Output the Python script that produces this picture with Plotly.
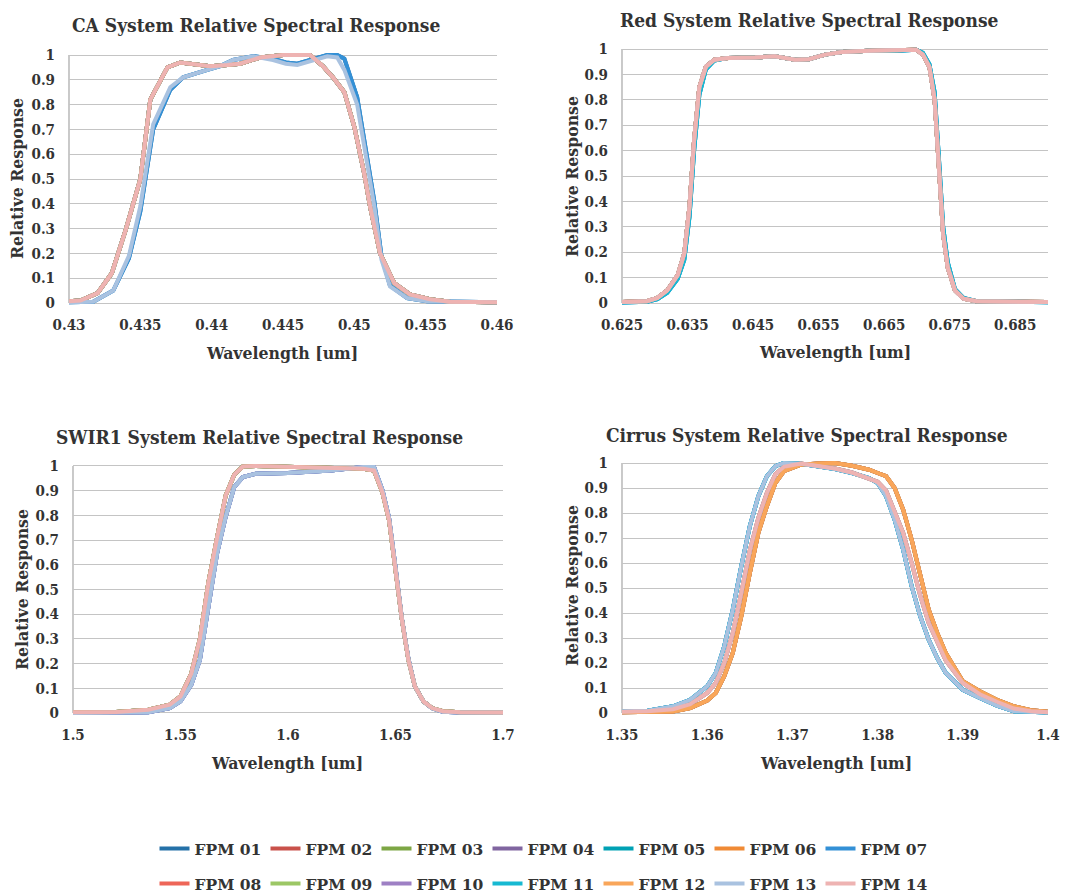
import plotly.graph_objects as go

W, H = 1086, 894

fpm_names = ["FPM 01", "FPM 02", "FPM 03", "FPM 04", "FPM 05", "FPM 06", "FPM 07",
             "FPM 08", "FPM 09", "FPM 10", "FPM 11", "FPM 12", "FPM 13", "FPM 14"]
fpm_colors = ["#2471A8", "#C9514A", "#7DA644", "#8065A0", "#00A1B4", "#F08A35", "#3390D6",
              "#EE6658", "#9CC765", "#9E80C4", "#17B9D2", "#F9A65A", "#A9C2E0", "#EEB3B2"]

panel_titles = ["CA System Relative Spectral Response", "Red System Relative Spectral Response",
                "SWIR1 System Relative Spectral Response", "Cirrus System Relative Spectral Response"]

# ---------------- CA band ----------------
ca_wl_a = [0.430, 0.4308, 0.432, 0.433, 0.434, 0.435, 0.4357, 0.4369, 0.4378, 0.4387, 0.4399, 0.4411,
           0.442, 0.4434, 0.445, 0.4469, 0.4478, 0.4485, 0.4493, 0.450, 0.4507, 0.4511, 0.4518, 0.4528,
           0.4539, 0.4553, 0.4567, 0.460]
ca_rsr_a = [0.007, 0.01, 0.04, 0.12, 0.30, 0.50, 0.82, 0.95, 0.97, 0.965, 0.955, 0.96,
            0.965, 0.99, 1.0, 1.0, 0.955, 0.91, 0.85, 0.71, 0.52, 0.39, 0.20, 0.08,
            0.035, 0.015, 0.005, 0.003]
ca_wl_b = [0.430, 0.4309, 0.4317, 0.4331, 0.4342, 0.435, 0.4359, 0.4371, 0.438, 0.4397, 0.4406, 0.4415,
           0.4429, 0.4443, 0.4452, 0.446, 0.4471, 0.4481, 0.4488, 0.4493, 0.4502, 0.4509, 0.4514, 0.4519,
           0.4525, 0.4537, 0.4551, 0.460]
ca_rsr_b = [0.003, 0.002, 0.005, 0.05, 0.19, 0.39, 0.72, 0.87, 0.91, 0.94, 0.955, 0.98,
            0.995, 0.98, 0.965, 0.96, 0.98, 0.995, 0.99, 0.94, 0.80, 0.55, 0.39, 0.175,
            0.067, 0.02, 0.007, 0.003]
ca_rsr_c = [0.003, 0.002, 0.005, 0.05, 0.18, 0.37, 0.70, 0.86, 0.91, 0.94, 0.955, 0.98,
            0.995, 0.985, 0.97, 0.965, 0.985, 1.0, 1.0, 0.985, 0.83, 0.58, 0.41, 0.19,
            0.07, 0.02, 0.007, 0.003]
ca_group = {"FPM 01": "c", "FPM 07": "c", "FPM 13": "b"}

# ---------------- Red band ----------------
red_wl = [0.625, 0.6288, 0.6304, 0.6319, 0.6335, 0.6345, 0.6353, 0.636, 0.6368, 0.6378, 0.6391, 0.6412,
          0.6453, 0.6483, 0.6514, 0.6535, 0.656, 0.6586, 0.6627, 0.6663, 0.6699, 0.6709, 0.6719, 0.6727,
          0.6735, 0.674, 0.6747, 0.6758, 0.6771, 0.6791, 0.690]
red_rsr_a = [0.004, 0.007, 0.02, 0.05, 0.11, 0.195, 0.38, 0.64, 0.85, 0.93, 0.958, 0.965,
             0.967, 0.971, 0.958, 0.96, 0.978, 0.988, 0.993, 0.995, 0.997, 0.978, 0.93, 0.80,
             0.47, 0.27, 0.14, 0.05, 0.017, 0.007, 0.004]
red_rsr_b = [0.002, 0.005, 0.015, 0.04, 0.095, 0.17, 0.34, 0.60, 0.82, 0.92, 0.955, 0.965,
             0.967, 0.971, 0.958, 0.96, 0.978, 0.988, 0.993, 0.992, 0.997, 0.985, 0.94, 0.83,
             0.51, 0.30, 0.16, 0.055, 0.02, 0.007, 0.003]
red_group = {"FPM 05": "b", "FPM 11": "b", "FPM 07": "b"}

# ---------------- SWIR1 band ----------------
swir_wl = [1.500, 1.520, 1.535, 1.545, 1.550, 1.555, 1.559, 1.563, 1.567, 1.571, 1.575, 1.579,
           1.585, 1.600, 1.620, 1.635, 1.640, 1.644, 1.647, 1.650, 1.653, 1.656, 1.659, 1.663,
           1.667, 1.672, 1.680, 1.700]
swir_rsr_a = [0.003, 0.004, 0.013, 0.034, 0.067, 0.16, 0.30, 0.53, 0.71, 0.88, 0.965, 0.998,
              1.0, 0.996, 0.989, 0.989, 0.982, 0.89, 0.78, 0.58, 0.377, 0.215, 0.108, 0.047,
              0.02, 0.007, 0.003, 0.002]
swir_rsr_b = [0.0, 0.0, 0.003, 0.02, 0.047, 0.114, 0.215, 0.43, 0.646, 0.794, 0.915, 0.955,
              0.969, 0.972, 0.982, 0.996, 0.996, 0.90, 0.79, 0.59, 0.38, 0.22, 0.108, 0.047,
              0.019, 0.005, 0.002, 0.002]
swir_group = {"FPM 01": "b", "FPM 04": "b", "FPM 07": "b", "FPM 10": "b", "FPM 13": "b"}

# ---------------- Cirrus band ----------------
cir_wl = [1.350, 1.353, 1.356, 1.358, 1.360, 1.361, 1.362, 1.363, 1.364, 1.365, 1.366, 1.367,
          1.368, 1.369, 1.371, 1.373, 1.375, 1.377, 1.379, 1.380, 1.381, 1.382, 1.383, 1.384,
          1.385, 1.386, 1.387, 1.388, 1.390, 1.392, 1.394, 1.396, 1.398, 1.400]
cir_rsr_early = [0.007, 0.009, 0.027, 0.053, 0.107, 0.16, 0.267, 0.413, 0.587, 0.747, 0.867, 0.947,
                 0.987, 1.0, 0.997, 0.987, 0.976, 0.96, 0.94, 0.92, 0.867, 0.773, 0.653, 0.507,
                 0.387, 0.293, 0.22, 0.16, 0.093, 0.06, 0.029, 0.007, 0.003, 0.002]
cir_rsr_mid = [0.005, 0.007, 0.015, 0.035, 0.08, 0.12, 0.20, 0.32, 0.48, 0.65, 0.78, 0.88,
               0.955, 0.985, 0.998, 0.99, 0.978, 0.962, 0.94, 0.925, 0.89, 0.81, 0.72, 0.60,
               0.47, 0.36, 0.28, 0.21, 0.12, 0.075, 0.045, 0.018, 0.007, 0.003]
cir_rsr_late = [0.003, 0.004, 0.006, 0.02, 0.05, 0.08, 0.147, 0.24, 0.387, 0.56, 0.72, 0.827,
                0.92, 0.967, 0.993, 0.998, 1.0, 0.989, 0.973, 0.96, 0.947, 0.90, 0.813, 0.693,
                0.547, 0.413, 0.32, 0.24, 0.127, 0.087, 0.053, 0.027, 0.011, 0.005]
cir_group = {"FPM 01": "early", "FPM 05": "early", "FPM 07": "early", "FPM 11": "early", "FPM 13": "early",
             "FPM 08": "mid", "FPM 09": "mid", "FPM 10": "mid", "FPM 14": "mid"}

# tick labels
ca_ticks = ["0.43", "0.435", "0.44", "0.445", "0.45", "0.455", "0.46"]
red_ticks = ["0.625", "0.635", "0.645", "0.655", "0.665", "0.675", "0.685"]
swir_ticks = ["1.5", "1.55", "1.6", "1.65", "1.7"]
cir_ticks = ["1.35", "1.36", "1.37", "1.38", "1.39", "1.4"]
y_ticks = ["0", "0.1", "0.2", "0.3", "0.4", "0.5", "0.6", "0.7", "0.8", "0.9", "1"]


def pick_ca(name):
    g = ca_group.get(name, "a")
    if g == "a":
        return ca_wl_a, ca_rsr_a
    if g == "b":
        return ca_wl_b, ca_rsr_b
    return ca_wl_b, ca_rsr_c


def pick_red(name):
    return red_wl, (red_rsr_b if red_group.get(name) == "b" else red_rsr_a)


def pick_swir(name):
    return swir_wl, (swir_rsr_b if swir_group.get(name) == "b" else swir_rsr_a)


def pick_cir(name):
    g = cir_group.get(name, "late")
    return cir_wl, {"early": cir_rsr_early, "mid": cir_rsr_mid, "late": cir_rsr_late}[g]


pickers = [pick_ca, pick_red, pick_swir, pick_cir]

# pixel layout of plot areas: (left, right, y_of_1, y_of_0)
areas = [(69, 497, 55, 303), (622, 1048, 49, 303), (73, 503, 466, 713), (622, 1048, 463, 713)]
xranges = [[0.43, 0.46], [0.625, 0.69], [1.5, 1.7], [1.35, 1.4]]
tickvals_x = [[0.43, 0.435, 0.44, 0.445, 0.45, 0.455, 0.46],
              [0.625, 0.635, 0.645, 0.655, 0.665, 0.675, 0.685],
              [1.5, 1.55, 1.6, 1.65, 1.7],
              [1.35, 1.36, 1.37, 1.38, 1.39, 1.4]]
ticktext_x = [ca_ticks, red_ticks, swir_ticks, cir_ticks]
title_pos = [(256, 25), (809, 20), (259, 437), (807, 435)]
xtitle_pos = [(282, 353), (835, 352), (287, 763), (836, 763)]
ytitle_pos = [(17, 179), (572, 177), (22, 590), (572, 586)]

FONT = "DejaVu Serif Condensed, DejaVu Serif, serif"
TXT = "#333333"
GRID = "#C4C4C4"
PAD = 0.012

fig = go.Figure()
layout = dict(width=W, height=H, margin=dict(l=0, r=0, t=0, b=0, autoexpand=False),
              paper_bgcolor="white", plot_bgcolor="white", annotations=[])

for p in range(4):
    ax = "" if p == 0 else str(p + 1)
    for i, name in enumerate(fpm_names):
        xs, ys = pickers[p](name)
        fig.add_trace(go.Scatter(
            x=xs, y=ys, mode="lines", name=name, legendgroup=name,
            showlegend=(p == 0), legend=("legend" if i < 7 else "legend2"),
            line=dict(color=fpm_colors[i], width=4),
            xaxis="x" + ax, yaxis="y" + ax, hoverinfo="skip"))
    l, r, y1, y0 = areas[p]
    span = y0 - y1
    top_px = y1 - PAD * span
    bot_px = y0 + PAD * span
    layout["xaxis" + ax] = dict(
        domain=[l / W, r / W], range=xranges[p], anchor="y" + ax, automargin=False,
        tickmode="array", tickvals=tickvals_x[p], ticktext=ticktext_x[p],
        showgrid=False, zeroline=False, showline=False, ticks="",
        ticklabelstandoff=8,
        tickfont=dict(family=FONT, size=15, color=TXT, weight="bold"))
    layout["yaxis" + ax] = dict(
        domain=[1 - bot_px / H, 1 - top_px / H], range=[-PAD, 1 + PAD], anchor="x" + ax,
        automargin=False,
        tickmode="array", tickvals=[k / 10 for k in range(11)], ticktext=y_ticks,
        showgrid=True, gridcolor=GRID, gridwidth=1.2, zeroline=False,
        showline=False, ticks="", ticklabelstandoff=13,
        tickfont=dict(family=FONT, size=15, color=TXT, weight="bold"))
    # left vertical axis line from 0 to 1
    layout.setdefault("shapes", []).append(dict(
        type="line", xref="x" + ax + " domain", yref="y" + ax, x0=0, x1=0, y0=0, y1=1,
        line=dict(color="#A6A6A6", width=1.2), layer="below"))
    tx, ty = title_pos[p]
    layout["annotations"].append(dict(
        text="<b>" + panel_titles[p] + "</b>", x=tx / W, y=1 - ty / H, xref="paper", yref="paper",
        xanchor="center", yanchor="middle", showarrow=False,
        font=dict(family=FONT, size=19, color=TXT)))
    tx, ty = xtitle_pos[p]
    layout["annotations"].append(dict(
        text="<b>Wavelength [um]</b>", x=tx / W, y=1 - ty / H, xref="paper", yref="paper",
        xanchor="center", yanchor="middle", showarrow=False,
        font=dict(family=FONT, size=17.5, color=TXT)))
    tx, ty = ytitle_pos[p]
    layout["annotations"].append(dict(
        text="<b>Relative Response</b>", x=tx / W, y=1 - ty / H, xref="paper", yref="paper",
        xanchor="center", yanchor="middle", showarrow=False, textangle=-90,
        font=dict(family=FONT, size=17.5, color=TXT)))

leg_common = dict(orientation="h", x=0.5, xanchor="center", yanchor="middle",
                  entrywidth=66, itemwidth=30, bgcolor="rgba(0,0,0,0)",
                  font=dict(family="DejaVu Serif, serif", size=15.5, color=TXT, weight="bold"))
layout["legend"] = dict(leg_common, y=1 - 849 / H)
layout["legend2"] = dict(leg_common, y=1 - 884 / H)

fig.update_layout(**layout)
fig.write_html("out.html", config={"displayModeBar": False},
               post_script="document.body.style.margin='0';")
